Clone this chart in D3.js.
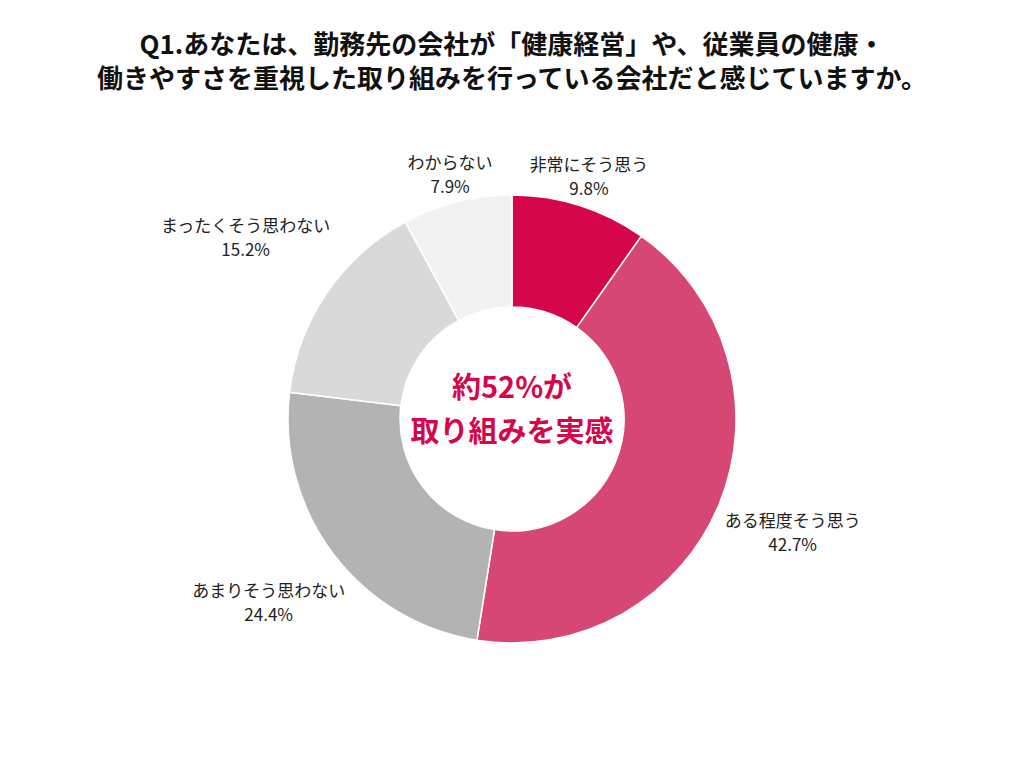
<!DOCTYPE html>
<html><head><meta charset="utf-8">
<script src="https://cdn.jsdelivr.net/npm/d3@7"></script>
<style>body{margin:0;background:#fff;}text{font-family:"Noto Sans CJK JP","Noto Sans",sans-serif;}</style>
</head><body><svg id="c" width="1024" height="768"></svg>
<script>
const titleLines = ["Q1.あなたは、勤務先の会社が「健康経営」や、従業員の健康・","働きやすさを重視した取り組みを行っている会社だと感じていますか。"];
const categories = ["非常にそう思う","ある程度そう思う","あまりそう思わない","まったくそう思わない","わからない"];
const values = [9.8,42.7,24.4,15.2,7.9];
const colors = ["#d5064a","#d64873","#b3b3b3","#d9d9d9","#f2f2f2"];
const labelRadius = [254,303,305,322,252];
const centerLines = ["約52%が","取り組みを実感"];

const svg = d3.select("#c");
svg.selectAll("text.title").data(titleLines).enter().append("text")
  .attr("x",512).attr("y",(d,i)=>54+i*34).attr("text-anchor","middle")
  .attr("font-size",26).attr("font-weight","bold").attr("fill","#111").text(d=>d);

const cx=512, cy=419, R=224, r=112;
const g = svg.append("g").attr("transform",`translate(${cx},${cy})`);
const pie = d3.pie().sort(null).value(d=>d)(values);
const arc = d3.arc().innerRadius(r).outerRadius(R);
g.selectAll("path").data(pie).enter().append("path")
  .attr("d",arc).attr("fill",(d,i)=>colors[i]).attr("stroke","#fff").attr("stroke-width",1.5);

pie.forEach((d,i)=>{
  const a=(d.startAngle+d.endAngle)/2, lr=labelRadius[i];
  const x=lr*Math.sin(a), y=-lr*Math.cos(a);
  const t=g.append("text").attr("text-anchor","middle").attr("font-size",17).attr("fill","#222");
  t.append("tspan").attr("x",x).attr("y",y-6).text(categories[i]);
  t.append("tspan").attr("x",x).attr("y",y+18).text(values[i].toFixed(1)+"%");
});
g.selectAll("text.center").data(centerLines).enter().append("text")
  .attr("x",0).attr("y",(d,i)=>-21+i*44).attr("text-anchor","middle")
  .attr("font-size",29).attr("font-weight","bold").attr("fill","#d5064a").text(d=>d);
</script></body></html>
